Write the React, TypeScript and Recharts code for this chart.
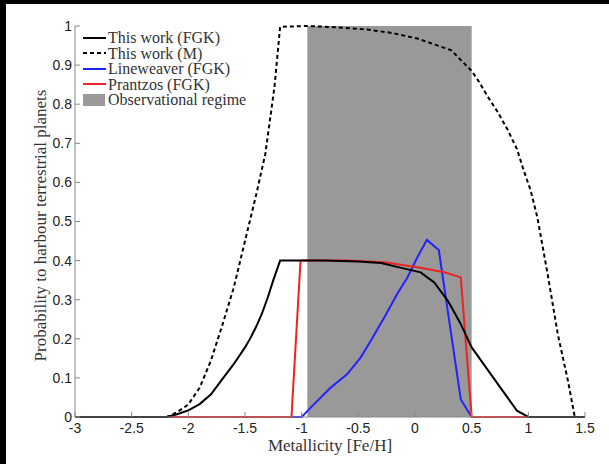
import { ComposedChart, Line, ReferenceArea, XAxis, YAxis } from 'recharts';

// This work (FGK)
const fgkX = [-3, -2.19, -2.1, -2.0, -1.9, -1.8, -1.7, -1.6, -1.5, -1.45, -1.4, -1.35, -1.3, -1.25, -1.19, -0.8, -0.5, -0.3, -0.13, 0.05, 0.17, 0.29, 0.4, 0.5, 0.7, 0.9, 1.0, 1.5];
const fgkY = [0, 0, 0.007, 0.017, 0.033, 0.058, 0.097, 0.135, 0.178, 0.203, 0.232, 0.265, 0.305, 0.35, 0.4, 0.4, 0.398, 0.394, 0.382, 0.37, 0.344, 0.297, 0.24, 0.178, 0.097, 0.016, 0, 0];

// This work (M)
const mX = [-3, -2.19, -2.1, -2.0, -1.9, -1.8, -1.7, -1.6, -1.5, -1.4, -1.32, -1.24, -1.19, -0.95, -0.7, -0.42, -0.2, 0.02, 0.32, 0.5, 0.57, 0.64, 0.73, 0.82, 0.9, 0.96, 1.02, 1.08, 1.17, 1.26, 1.35, 1.41, 1.5];
const mY = [0, 0, 0.012, 0.032, 0.075, 0.145, 0.235, 0.33, 0.45, 0.57, 0.674, 0.844, 0.998, 1.0, 0.997, 0.991, 0.982, 0.968, 0.938, 0.885, 0.855, 0.82, 0.78, 0.733, 0.685, 0.63, 0.58, 0.51, 0.366, 0.212, 0.092, 0, 0];

// Lineweaver (FGK)
const lwX = [-3, -1.0, -0.89, -0.745, -0.6, -0.48, -0.39, -0.27, -0.156, -0.067, 0.02, 0.105, 0.21, 0.404, 0.5, 1.5];
const lwY = [0, 0, 0.033, 0.075, 0.109, 0.152, 0.195, 0.255, 0.315, 0.357, 0.408, 0.453, 0.427, 0.045, 0, 0];

// Prantzos (FGK)
const prX = [-3, -1.09, -1.01, -0.6, -0.27, 0.02, 0.26, 0.404, 0.5, 1.5];
const prY = [0, 0, 0.4, 0.4, 0.396, 0.383, 0.37, 0.357, 0, 0];

const regime = [-0.95, 0.5];

const xTicks = [-3, -2.5, -2, -1.5, -1, -0.5, 0, 0.5, 1, 1.5];
const yTicks = [0, 0.1, 0.2, 0.3, 0.4, 0.5, 0.6, 0.7, 0.8, 0.9, 1];

const toPoints = (xs: number[], ys: number[]) => xs.map((x, i) => ({ x, y: ys[i] }));

const legendItems = [
  { label: 'This work (FGK)', color: '#000', dash: undefined as string | undefined, patch: false },
  { label: 'This work (M)', color: '#000', dash: '4 3', patch: false },
  { label: 'Lineweaver (FGK)', color: '#2222ff', dash: undefined, patch: false },
  { label: 'Prantzos (FGK)', color: '#ee2222', dash: undefined, patch: false },
  { label: 'Observational regime', color: '#999', dash: undefined, patch: true },
];

const frame = '#888';
const tickFont = { fontSize: 14, fill: '#222', fontFamily: 'Liberation Sans, Arial, sans-serif' };
const serif = "'Liberation Serif', 'Times New Roman', serif";

const XTitle = ({ viewBox }: any) => (
  <text x={viewBox.x + viewBox.width / 2} y={viewBox.y + viewBox.height - 13} textAnchor="middle" fontFamily={serif} fontSize={17} fill="#333">
    Metallicity [Fe/H]
  </text>
);

const YTitle = ({ viewBox }: any) => {
  const cx = 46;
  const cy = viewBox.y + viewBox.height / 2 + 4;
  return (
    <text x={cx} y={cy} transform={`rotate(-90, ${cx}, ${cy})`} textAnchor="middle" fontFamily={serif} fontSize={17} fill="#333">
      Probability to harbour terrestrial planets
    </text>
  );
};

export default function App() {
  return (
    <div style={{ position: 'absolute', left: 0, top: 0, width: 609, height: 464, background: '#000' }}>
      <div style={{ position: 'absolute', left: 6, top: 4, width: 603, height: 460, background: '#fff' }} />
      <div style={{ position: 'absolute', left: 0, top: 0 }}>
        <ComposedChart width={609} height={464} margin={{ top: 26, right: 24, bottom: 0, left: 0 }}>
          <XAxis
            xAxisId="b"
            type="number"
            dataKey="x"
            domain={[-3, 1.5]}
            ticks={xTicks}
            allowDataOverflow
            height={47}
            stroke={frame}
            tickSize={-5}
            tickMargin={11}
            tick={tickFont}
            label={{ content: XTitle }}
          />
          <XAxis
            xAxisId="t"
            orientation="top"
            type="number"
            dataKey="x"
            domain={[-3, 1.5]}
            ticks={xTicks}
            allowDataOverflow
            height={0}
            stroke={frame}
            tickSize={-5}
            tickFormatter={() => ''}
          />
          <YAxis
            yAxisId="l"
            type="number"
            domain={[0, 1]}
            ticks={yTicks}
            width={75}
            stroke={frame}
            tickSize={-5}
            tickMargin={8}
            tick={tickFont}
            label={{ content: YTitle }}
          />
          <YAxis
            yAxisId="r"
            orientation="right"
            type="number"
            domain={[0, 1]}
            ticks={yTicks}
            width={0}
            stroke={frame}
            tickSize={-5}
            tickFormatter={() => ''}
          />
          <ReferenceArea xAxisId="b" yAxisId="l" x1={regime[0]} x2={regime[1]} y1={0} y2={1} fill="#999" fillOpacity={1} stroke="none" />
          <Line xAxisId="b" yAxisId="l" data={toPoints(lwX, lwY)} dataKey="y" stroke="#2222ff" strokeWidth={2} dot={false} type="linear" isAnimationActive={false} />
          <Line xAxisId="b" yAxisId="l" data={toPoints(prX, prY)} dataKey="y" stroke="#ee2222" strokeWidth={2} dot={false} type="linear" isAnimationActive={false} />
          <Line xAxisId="b" yAxisId="l" data={toPoints(mX, mY)} dataKey="y" stroke="#000" strokeWidth={2} strokeDasharray="4 3" dot={false} type="linear" isAnimationActive={false} />
          <Line xAxisId="b" yAxisId="l" data={toPoints(fgkX, fgkY)} dataKey="y" stroke="#000" strokeWidth={2} dot={false} type="linear" isAnimationActive={false} />
        </ComposedChart>
      </div>
      <div style={{ position: 'absolute', left: 83, top: 30, fontFamily: serif, fontSize: 16, color: '#333', lineHeight: '15.5px' }}>
        {legendItems.map((it) => (
          <div key={it.label} style={{ display: 'flex', alignItems: 'center', height: 15.5 }}>
            <svg width={24} height={14} style={{ marginRight: 1 }}>
              {it.patch ? (
                <rect x={0} y={1} width={22} height={12} fill={it.color} />
              ) : (
                <line x1={0} x2={23} y1={7} y2={7} stroke={it.color} strokeWidth={2} strokeDasharray={it.dash} />
              )}
            </svg>
            <span style={{ whiteSpace: 'nowrap' }}>{it.label}</span>
          </div>
        ))}
      </div>
    </div>
  );
}
